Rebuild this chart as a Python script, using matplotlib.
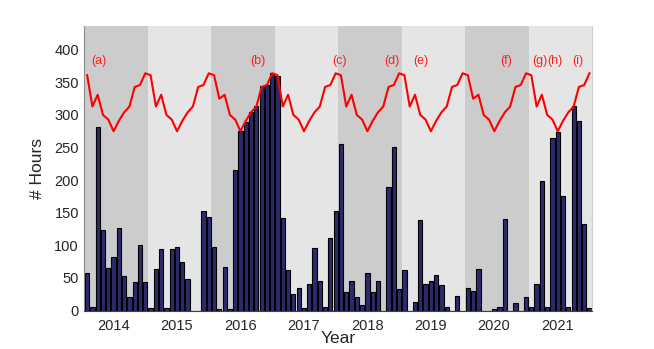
import numpy as np
import matplotlib
matplotlib.use("Agg")
import matplotlib.pyplot as plt

plt.rcParams['font.family'] = ['Liberation Sans', 'DejaVu Sans']

years = [2014, 2015, 2016, 2017, 2018, 2019, 2020, 2021]

# monthly observed hours, Jan..Dec per row
hours = [
    58, 6, 281, 123, 65, 82, 127, 53, 21, 44, 100, 44,      # 2014
    4, 63, 94, 4, 95, 97, 75, 49, 0, 0, 153, 144,           # 2015
    97, 3, 67, 3, 216, 275, 289, 305, 314, 344, 346, 364,   # 2016
    360, 142, 62, 25, 35, 4, 41, 96, 45, 5, 112, 153,       # 2017
    255, 28, 46, 21, 9, 57, 29, 45, 0, 190, 251, 33,        # 2018
    62, 0, 13, 139, 40, 45, 54, 39, 5, 0, 22, 0,            # 2019
    34, 30, 63, 0, 0, 2, 6, 140, 0, 11, 0, 20,              # 2020
    5, 41, 199, 6, 264, 274, 176, 5, 314, 290, 132, 4,      # 2021
]

# available (night) hours per month
night = [
    361, 313, 331, 300, 293, 275, 291, 304, 313, 343, 346, 364,
    361, 313, 331, 300, 293, 275, 291, 304, 313, 343, 346, 364,
    361, 325, 331, 300, 293, 275, 291, 304, 313, 343, 346, 364,
    361, 313, 331, 300, 293, 275, 291, 304, 313, 343, 346, 364,
    361, 313, 331, 300, 293, 275, 291, 304, 313, 343, 346, 364,
    361, 313, 331, 300, 293, 275, 291, 304, 313, 343, 346, 364,
    361, 325, 331, 300, 293, 275, 291, 304, 313, 343, 346, 364,
    361, 313, 331, 300, 293, 275, 291, 304, 313, 343, 346, 364,
]

labels = ['(a)', '(b)', '(c)', '(d)', '(e)', '(f)', '(g)', '(h)', '(i)']
label_x = [2014.224, 2016.735, 2018.024, 2018.847, 2019.294, 2020.64, 2021.175, 2021.41, 2021.775]
label_y = 383

t = years[0] + (np.arange(len(hours)) + 0.5) / 12.0

fig = plt.figure(figsize=(6.54, 3.49), dpi=100)
ax = fig.add_axes([0.1292, 0.1103, 0.7762, 0.8161])

for i, yr in enumerate(years):
    ax.axvspan(yr, yr + 1, color='#cccccc' if i % 2 == 0 else '#e5e5e5', lw=0, zorder=0)

ax.bar(t, hours, width=0.8 / 12, color='#2c2a6c', edgecolor='black', linewidth=0.8, zorder=2)
ax.plot(t, night, color='red', lw=1.5, zorder=3)

for s, xx in zip(labels, label_x):
    ax.text(xx, label_y, s, color='#ff2020', fontsize=9, ha='center', va='center', zorder=4)

ax.set_xlim(years[0], years[-1] + 1)
ax.set_ylim(0, 437)
ax.set_xticks([y + 0.455 for y in years])
ax.set_xticklabels([str(y) for y in years])
ax.set_yticks(range(0, 401, 50))
ax.tick_params(length=0, labelsize=10.5, colors='#262626', pad=4)
ax.tick_params(axis='x', pad=6)
ax.set_xlabel('Year', fontsize=12.5, color='#262626', labelpad=-1)
ax.set_ylabel('# Hours', fontsize=12.5, color='#262626', labelpad=7)

ax.spines['top'].set_visible(False)
ax.spines['right'].set_color('#d0d0d0')
ax.spines['left'].set_color('#8a8a8a')
ax.spines['bottom'].set_color('#404040')

fig.savefig('out.png', dpi=100)
